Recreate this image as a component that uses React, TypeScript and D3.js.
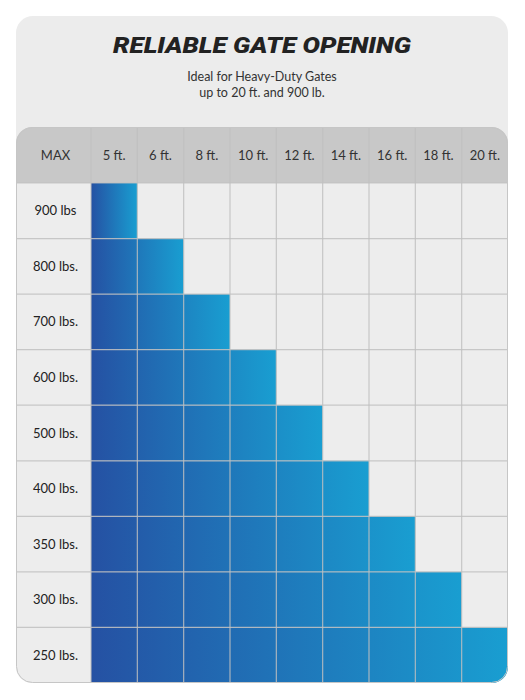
import { useEffect, useRef } from "react";
import * as d3 from "d3";

// Table content
const widths = ["5 ft.", "6 ft.", "8 ft.", "10 ft.", "12 ft.", "14 ft.", "16 ft.", "18 ft.", "20 ft."];
const weights = ["900 lbs", "800 lbs.", "700 lbs.", "600 lbs.", "500 lbs.", "400 lbs.", "350 lbs.", "300 lbs.", "250 lbs."];
// longest gate (ft.) allowed for each weight row
const maxGate = ["5 ft.", "6 ft.", "8 ft.", "10 ft.", "12 ft.", "14 ft.", "16 ft.", "18 ft.", "20 ft."];

const title = "RELIABLE GATE OPENING";
const subtitle = ["Ideal for Heavy-Duty Gates", "up to 20 ft. and 900 lb."];

export default function App() {
  const svgRef = useRef<SVGSVGElement>(null);

  useEffect(() => {
    if (!svgRef.current) return;
    const svg = d3.select(svgRef.current);
    svg.selectAll("*").remove();

    const W = 525;
    const H = 700;
    const card = { left: 16, top: 16, right: 508, bottom: 683 };
    const labelRight = 91;
    const headTop = 127;
    const headBottom = 183;

    svg.attr("width", W).attr("height", H);

    const defs = svg.append("defs");

    // card background
    svg
      .append("rect")
      .attr("x", card.left)
      .attr("y", card.top)
      .attr("width", card.right - card.left)
      .attr("height", card.bottom - card.top)
      .attr("rx", 17)
      .attr("fill", "#ececec");

    // title
    svg
      .append("text")
      .attr("x", 262)
      .attr("y", 53)
      .attr("text-anchor", "middle")
      .attr("font-family", "Roboto, 'Liberation Sans', sans-serif")
      .attr("font-weight", 900)
      .attr("font-style", "italic")
      .attr("font-size", 22)
      .attr("textLength", 298)
      .attr("lengthAdjust", "spacingAndGlyphs")
      .attr("fill", "#222")
      .text(title);

    svg
      .selectAll("text.sub")
      .data(subtitle)
      .join("text")
      .attr("class", "sub")
      .attr("x", 262)
      .attr("y", (_, i) => 81 + i * 16)
      .attr("text-anchor", "middle")
      .attr("font-family", "Lato, sans-serif")
      .attr("font-size", 12.5)
      .attr("fill", "#333")
      .text((d) => d);

    // scales
    const x = d3.scaleBand<string>().domain(widths).range([labelRight, card.right]);
    const y = d3.scaleBand<string>().domain(weights).range([headBottom, card.bottom]);

    // table clip (rounded corners)
    const r = 16;
    defs
      .append("clipPath")
      .attr("id", "tableClip")
      .append("rect")
      .attr("x", card.left)
      .attr("y", headTop)
      .attr("width", card.right - card.left)
      .attr("height", card.bottom - headTop)
      .attr("rx", r);

    const table = svg.append("g").attr("clip-path", "url(#tableClip)");

    // body background
    table
      .append("rect")
      .attr("x", card.left)
      .attr("y", headTop)
      .attr("width", card.right - card.left)
      .attr("height", card.bottom - headTop)
      .attr("fill", "#ededed");

    // header band
    table
      .append("rect")
      .attr("x", card.left)
      .attr("y", headTop)
      .attr("width", card.right - card.left)
      .attr("height", headBottom - headTop)
      .attr("fill", "#c8c8c8");

    // filled cells, one gradient per row
    weights.forEach((w, i) => {
      const end = (x(maxGate[i]) as number) + x.bandwidth();
      const id = `grad${i}`;
      const g = defs
        .append("linearGradient")
        .attr("id", id)
        .attr("gradientUnits", "userSpaceOnUse")
        .attr("x1", labelRight)
        .attr("x2", end)
        .attr("y1", 0)
        .attr("y2", 0);
      g.append("stop").attr("offset", 0).attr("stop-color", "#2551a3");
      g.append("stop").attr("offset", 1).attr("stop-color", "#199ed1");

      table
        .append("rect")
        .attr("x", labelRight)
        .attr("y", y(w) as number)
        .attr("width", end - labelRight)
        .attr("height", y.bandwidth())
        .attr("fill", `url(#${id})`);
    });

    // grid lines
    const colEdges = widths.map((d) => x(d) as number);
    table
      .selectAll("line.v")
      .data(colEdges)
      .join("line")
      .attr("class", "v")
      .attr("x1", (d) => d)
      .attr("x2", (d) => d)
      .attr("y1", headTop)
      .attr("y2", card.bottom)
      .attr("stroke", "#c0c0c0")
      .attr("stroke-width", 1.2)
      .attr("stroke-opacity", 0.85);

    const rowEdges = [headBottom, ...weights.slice(1).map((d) => y(d) as number)];
    table
      .selectAll("line.h")
      .data(rowEdges)
      .join("line")
      .attr("class", "h")
      .attr("x1", card.left)
      .attr("x2", card.right)
      .attr("y1", (d) => d)
      .attr("y2", (d) => d)
      .attr("stroke", "#c0c0c0")
      .attr("stroke-width", 1.2)
      .attr("stroke-opacity", 0.85);

    // outline
    svg
      .append("rect")
      .attr("x", card.left + 0.5)
      .attr("y", headTop + 0.5)
      .attr("width", card.right - card.left - 1)
      .attr("height", card.bottom - headTop - 1)
      .attr("rx", r)
      .attr("fill", "none")
      .attr("stroke", "#c6c6c6")
      .attr("stroke-width", 1);

    // header labels
    const headY = (headTop + headBottom) / 2 + 4.5;
    svg
      .append("text")
      .attr("x", (card.left + labelRight) / 2 + 2)
      .attr("y", headY)
      .attr("text-anchor", "middle")
      .attr("font-family", "Lato, sans-serif")
      .attr("font-size", 13)
      .attr("fill", "#333")
      .text("MAX");

    svg
      .selectAll("text.col")
      .data(widths)
      .join("text")
      .attr("class", "col")
      .attr("x", (d) => (x(d) as number) + x.bandwidth() / 2)
      .attr("y", headY)
      .attr("text-anchor", "middle")
      .attr("font-family", "Lato, sans-serif")
      .attr("font-size", 13)
      .attr("fill", "#333")
      .text((d) => d);

    svg
      .selectAll("text.row")
      .data(weights)
      .join("text")
      .attr("class", "row")
      .attr("x", (card.left + labelRight) / 2 + 2)
      .attr("y", (d) => (y(d) as number) + y.bandwidth() / 2 + 4.5)
      .attr("text-anchor", "middle")
      .attr("font-family", "Lato, sans-serif")
      .attr("font-size", 13)
      .attr("fill", "#222")
      .text((d) => d);
  }, []);

  return (
    <div style={{ position: "absolute", left: 0, top: 0 }}>
      <svg ref={svgRef} style={{ display: "block" }} />
    </div>
  );
}
